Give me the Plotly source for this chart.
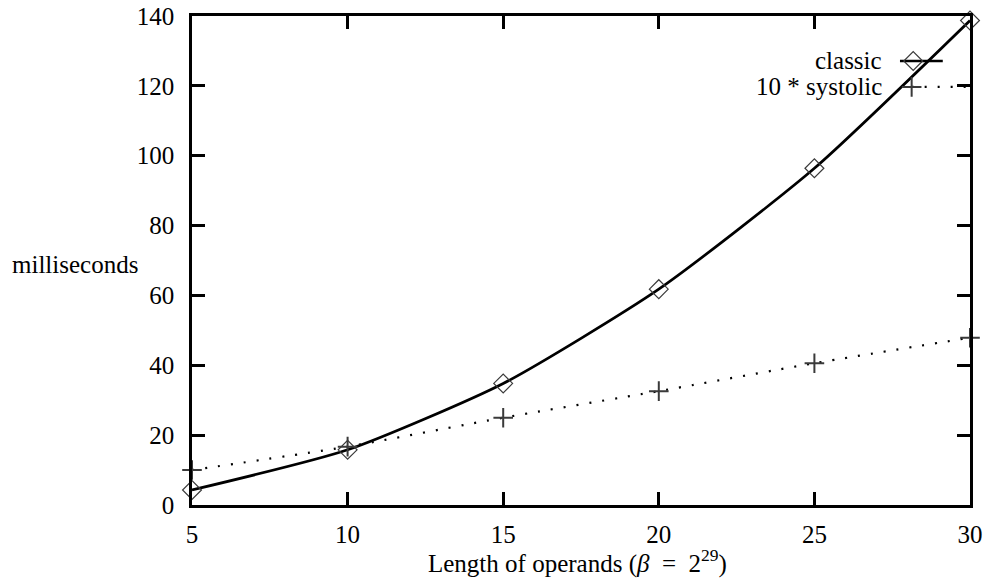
import plotly.graph_objects as go

lengths = [5, 10, 15, 20, 25, 30]
classic_ms = [4.3, 15.8, 34.8, 61.8, 96.4, 138.7]
systolic_x10_ms = [10.0, 16.7, 25.0, 32.6, 40.6, 47.9]
x_ticks = [5, 10, 15, 20, 25, 30]
y_ticks = [0, 20, 40, 60, 80, 100, 120, 140]
series_names = ["classic", "10 * systolic"]

FONT = "Liberation Serif"
FS = 25
MARK = "#3a3a3a"
DOT = "2px,11px"

fig = go.Figure()

fig.add_trace(go.Scatter(x=lengths, y=classic_ms, mode="lines+markers", name=series_names[0],
    cliponaxis=False,
    line=dict(color="black", width=2.7, shape="spline", smoothing=0.6),
    marker=dict(symbol="diamond-open", size=14.5, color=MARK, line=dict(width=1.2, color=MARK))))
fig.add_trace(go.Scatter(x=lengths, y=systolic_x10_ms, mode="lines+markers", name=series_names[1],
    cliponaxis=False,
    line=dict(color="black", width=2.2, dash=DOT, shape="spline", smoothing=0.6),
    marker=dict(symbol="cross-thin-open", size=14, color=MARK, line=dict(width=2, color=MARK))))

# legend keys (drawn to the right of the labels, as in the original)
fig.add_trace(go.Scatter(x=[0.910, 0.965], y=[0.908, 0.908], xaxis="x2", yaxis="y2", mode="lines",
    line=dict(color="black", width=2.7), showlegend=False, hoverinfo="skip", cliponaxis=False))
fig.add_trace(go.Scatter(x=[0.927], y=[0.908], xaxis="x2", yaxis="y2", mode="markers",
    marker=dict(symbol="diamond-open", size=14.5, color=MARK, line=dict(width=1.2, color=MARK)),
    showlegend=False, hoverinfo="skip", cliponaxis=False))
fig.add_trace(go.Scatter(x=[0.925, 1.0], y=[0.855, 0.855], xaxis="x2", yaxis="y2", mode="lines",
    line=dict(color="black", width=2.2, dash=DOT), showlegend=False, hoverinfo="skip", cliponaxis=False))
fig.add_trace(go.Scatter(x=[0.925], y=[0.855], xaxis="x2", yaxis="y2", mode="markers",
    marker=dict(symbol="cross-thin-open", size=14, color=MARK, line=dict(width=2, color=MARK)),
    showlegend=False, hoverinfo="skip", cliponaxis=False))

fig.add_annotation(x=0.889, y=0.908, xref="x2", yref="y2", text=series_names[0], showarrow=False,
                   xanchor="right", yanchor="middle", font=dict(family=FONT, size=FS, color="black"))
fig.add_annotation(x=0.889, y=0.855, xref="x2", yref="y2", text=series_names[1], showarrow=False,
                   xanchor="right", yanchor="middle", font=dict(family=FONT, size=FS, color="black"))

fig.add_annotation(x=-0.234, y=0.491, xref="paper", yref="paper", text="milliseconds", showarrow=False,
                   xanchor="left", yanchor="middle", font=dict(family=FONT, size=FS, color="black"))
fig.add_annotation(x=0.496, y=-0.116, xref="paper", yref="paper",
                   text="Length of operands (<i>β</i>  =  2<sup>29</sup>)", showarrow=False,
                   xanchor="center", yanchor="middle", font=dict(family=FONT, size=FS, color="black"))

axis_common = dict(showgrid=False, zeroline=False, showline=True, linecolor="black", linewidth=2.5,
                   mirror="ticks", ticks="inside", ticklen=13, tickwidth=2.5, tickcolor="black",
                   automargin=False,
                   tickfont=dict(family=FONT, size=FS, color="black"))

fig.update_layout(
    width=983, height=580, margin=dict(l=192, r=13, t=16, b=75),
    plot_bgcolor="white", paper_bgcolor="white", showlegend=False,
    xaxis=dict(range=[5, 30], tickvals=x_ticks, ticklabelstandoff=5, **axis_common),
    yaxis=dict(range=[0, 140], tickvals=y_ticks, ticklabelstandoff=10, **axis_common),
    xaxis2=dict(range=[0, 1], overlaying="x", visible=False),
    yaxis2=dict(range=[0, 1], overlaying="y", visible=False),
)

fig.write_html("out.html")
